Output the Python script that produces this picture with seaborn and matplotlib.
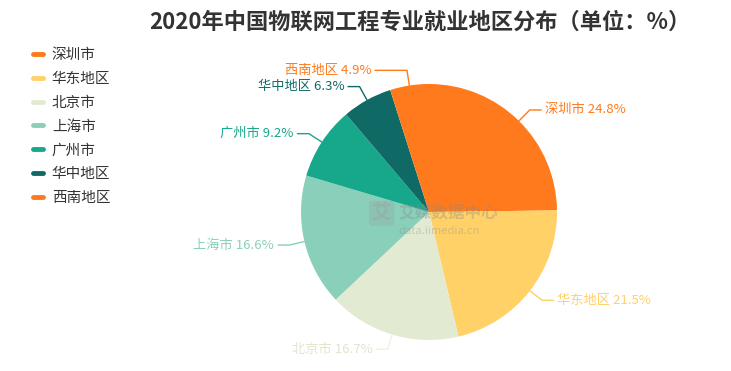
import numpy as np
import matplotlib
matplotlib.use('Agg')
import matplotlib.pyplot as plt
from matplotlib.lines import Line2D
import seaborn as sns

# 数据
regions = ['深圳市', '华东地区', '北京市', '上海市', '广州市', '华中地区', '西南地区']
shares = [24.8, 21.5, 16.7, 16.6, 9.2, 6.3, 4.9]
colors = ['#FF7A1C', '#FFD166', '#E2EBD2', '#89CFB9', '#17A78B', '#0F6A66', '#FF7A1C']
title = '2020年中国物联网工程专业就业地区分布（单位：%）'

sns.set_theme(style='white')
plt.rcParams['font.family'] = ['Noto Sans CJK SC', 'DejaVu Sans']

W, H = 731, 371
fig = plt.figure(figsize=(W / 100, H / 100), dpi=100)
ax = fig.add_axes([0, 0, 1, 1])

# 饼图中心与半径（像素）
cx, cy, R = 429, 212, 128

wedges, _ = ax.pie(shares, colors=colors, startangle=90, counterclock=False,
                   radius=1, center=(0, 0), wedgeprops={'linewidth': 0})
ax.set_aspect('auto')
ax.set_xlim(-cx / R, (W - cx) / R)
ax.set_ylim(-(H - cy) / R, cy / R)
ax.axis('off')

# 标签与引导线
for w, name, val, col in zip(wedges, regions, shares, colors):
    ang = np.deg2rad((w.theta1 + w.theta2) / 2)
    x0, y0 = np.cos(ang), np.sin(ang)
    x1, y1 = 1.12 * x0, 1.12 * y0
    side = 1 if x0 >= 0 else -1
    # 小扇区的水平引线拉长一些，避免标签挤在一起
    x2 = x1 + side * (0.25 if name == '西南地区' else 0.09)
    lc = '#F0F2DC' if name == '北京市' else col
    tc = '#E0E6CC' if name == '北京市' else col
    ax.plot([x0, x1, x2], [y0, y1, y1], color=lc, lw=1)
    ax.text(x2 + side * 0.03, y1, f'{name} {val}%', color=tc, fontsize=9.5,
            ha='left' if side > 0 else 'right', va='center')

# 水印
ax.text(-0.37, -0.01, '艾', fontsize=14, fontweight='bold', color='#9a9a9a', alpha=0.35,
        ha='center', va='center',
        bbox=dict(boxstyle='round,pad=0.15', fc='#9a9a9a', ec='none', alpha=0.25))
ax.text(-0.24, 0.0, '艾媒数据中心', fontsize=12, fontweight='bold', color='#8a8a8a',
        alpha=0.35, ha='left', va='center')
ax.text(-0.24, -0.15, 'data.iimedia.cn', fontsize=8, color='#8a8a8a', alpha=0.35,
        ha='left', va='center')

fig.text(420 / W, 1 - 22 / H, title, fontsize=16, fontweight='bold', color='#333333',
         ha='center', va='center')

handles = [Line2D([0], [0], color=c, lw=3.5) for c in colors]
leg = fig.legend(handles, regions, loc='upper left', bbox_to_anchor=(27 / W, 1 - 42 / H),
                 frameon=False, fontsize=10.5, handlelength=0.7, handletextpad=0.6,
                 labelspacing=0.68, borderaxespad=0)
for t in leg.get_texts():
    t.set_color('#333333')

fig.savefig('out.png', dpi=100)
